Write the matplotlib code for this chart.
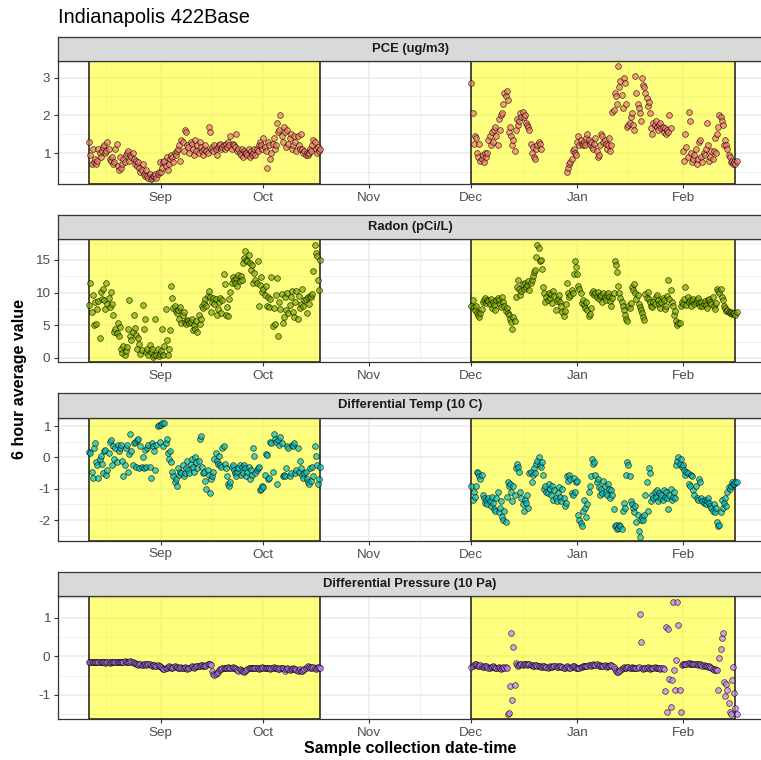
import numpy as np
import pandas as pd
import matplotlib
matplotlib.use('Agg')
import matplotlib.pyplot as plt
import matplotlib.dates as mdates
from matplotlib.colors import to_rgba

plt.rcParams['font.family'] = ['Liberation Sans', 'DejaVu Sans']
plt.rcParams['axes.unicode_minus'] = False

nan = np.nan

# two sampling campaigns, one value every 8 hours
fall_start = '2019-08-11 02:00'
winter_start = '2019-12-01 00:00'
periods = [('2019-08-11 02:00', '2019-10-17 19:00'),
           ('2019-12-01 00:00', '2020-02-16 07:00')]
x_range = ('2019-08-01 20:00', '2020-02-24 03:00')

panel_titles = ['PCE (ug/m3)', 'Radon (pCi/L)', 'Differential Temp (10 C)',
                'Differential Pressure (10 Pa)']

pce_fall = [
    1.30, 0.95, 0.70, 1.10, 0.75, 0.85, 0.70, 0.80, 1.10, 1.00, 0.90, 1.05,
    1.15, 1.20, 1.00, 1.05, 1.30, 1.10, 0.85, 0.80, 0.90, 0.70, 0.75, 1.10,
    1.25, 0.65, 0.55, 0.90, 0.60, 0.70, 0.85, 0.75, 0.95, 1.00, 1.05, 0.80,
    0.95, 0.90, 1.00, 0.85, 0.70, 0.80, 0.65, 0.75, 0.60, 0.50, 0.55, 0.70,
    0.45, 0.40, 0.55, 0.40, 0.35, 0.45, 0.30, 0.35, 0.40, 0.40, 0.45, 0.35,
    0.45, 0.50, 0.75, 0.50, 0.60, 0.75, 0.80, 0.65, 0.90, 0.55, 0.70, 0.85,
    0.95, 0.90, 0.75, 1.00, 0.95, 1.05, 1.10, 1.20, 0.80, 1.35, 1.30, 1.05,
    1.60, 1.55, 1.20, 1.15, 1.00, 1.30, 1.25, 1.10, 0.95, 1.35, 1.05, 1.20,
    1.00, 1.30, 1.15, 1.05, 0.95, 1.10, 1.20, 1.05, 1.00, 1.70, 1.55, 1.10,
    1.15, 1.05, 1.20, 1.10, 0.95, 1.15, 1.20, 1.25, 1.10, 1.15, 1.20, 1.10,
    1.25, 1.15, 1.30, 1.20, 1.45, 1.10, 1.25, 1.20, 1.15, 1.50, 1.05, 1.10,
    1.00, 0.95, 1.10, 0.90, 1.05, 1.00, 1.00, 0.95, 1.10, 0.90, 1.05, 0.95,
    1.00, 1.10, 0.95, 1.10, 1.05, 1.20, 1.30, 1.20, 1.10, 1.40, 1.15, 1.05,
    0.60, 1.30, 1.20, 0.85, 1.00, 1.25, 1.40, 1.10, 1.20, 1.80, 1.55, 1.60,
    2.00, 1.45, 1.30, 1.70, 1.55, 1.15, 1.60, 1.25, 1.40, 1.50, 1.10, 1.20,
    1.45, 1.30, 1.05, 1.45, 1.20, 1.10, 1.50, 1.10, 1.00, 1.05, 0.95, 1.00,
    0.95, 1.00, 1.10, 1.05, 1.20, 1.35, 1.30, 1.10, 1.00, 1.15, 1.05, 1.10,
]
pce_winter = [
    2.85, 2.05, 1.25, 1.45, 1.40, 1.00, 0.90, 1.25, 0.80, 0.85, 0.95, 0.75,
    1.00, 0.90, 1.00, 1.35, 1.45, 1.20, 1.55, 1.30, 1.60, 1.70, 1.45, 1.20,
    1.90, 1.60, 2.00, 2.05, 2.30, 2.60, 2.50, 2.65, 2.40, 1.55, 1.70, 1.45,
    1.20, 1.35, 1.05, 1.60, 1.90, 1.75, 1.85, 2.05, 1.95, 2.10, 1.95, 2.00,
    1.80, 1.75, 1.70, 1.60, 1.25, 1.00, 1.15, 0.90, 0.85, 1.10, 1.20, 1.30,
    1.25, 1.10, nan, nan, nan, nan, nan, nan, nan, nan, nan, nan,
    nan, nan, nan, nan, nan, nan, nan, nan, nan, nan, nan, nan,
    0.50, 0.60, 0.70, 0.75, 0.85, 1.05, 1.10, 1.00, 0.95, 1.30, 1.45, 1.20,
    1.35, 1.25, 1.20, 1.30, 1.20, 1.40, 1.50, 1.35, 1.25, 1.30, 1.15, 1.10,
    1.25, 1.40, 1.05, 0.90, 0.95, 1.20, 1.50, 1.45, 1.30, 1.35, 1.25, 1.10,
    1.20, 1.40, 1.05, 1.20, 2.10, 2.15, 2.60, 2.50, 2.30, 3.30, 2.75, 2.90,
    2.55, 2.20, 3.00, 2.85, 2.30, 1.70, 1.75, 1.80, 1.95, 2.05, 1.75, 1.60,
    3.05, 2.60, 2.30, 2.20, 2.05, 1.85, 3.00, 2.80, 2.75, 2.60, 2.45, 2.25,
    2.35, 2.05, 1.65, 1.50, 1.80, 1.75, 1.85, 1.70, 1.60, 1.75, 1.80, 1.65,
    1.70, 1.55, 1.65, 1.50, 1.60, 1.55, 2.00, 1.65, nan, nan, nan, nan,
    nan, nan, nan, nan, nan, nan, 1.05, 0.80, 1.50, 1.15, 0.90, 2.10,
    1.85, 1.00, 0.75, 0.85, 0.95, 1.10, 0.70, 0.85, 1.30, 1.35, 0.90, 0.75,
    1.00, 0.95, 1.10, 1.80, 1.20, 0.80, 0.90, 1.05, 0.85, 1.05, 1.40, 1.00,
    1.50, 1.70, 2.00, 1.95, 1.85, 1.75, 1.20, 1.35, 1.20, 1.10, 0.95, 0.90,
    0.75, 0.80, 0.70, 0.75, 0.70, 0.80,
]

radon_fall = [
    8.1, 11.4, 7.0, 9.6, 5.1, 8.5, 5.2, 7.5, 8.7, 3.0, 10.1, 9.0,
    10.5, 8.8, 7.5, 11.5, 8.3, 9.2, 7.8, 10.1, 8.2, 6.5, 4.0, 4.5,
    3.8, 5.3, 3.3, 4.8, 1.4, 0.8, 1.8, 0.5, 1.1, 1.6, 4.5, 8.8,
    3.3, 2.7, 4.0, 6.5, 4.6, 3.5, 1.4, 3.0, 2.1, 0.6, 1.2, 8.1,
    4.4, 5.9, 0.9, 1.3, 0.5, 2.0, 0.9, 1.4, 0.2, 0.5, 5.9, 0.4,
    1.3, 0.3, 0.6, 1.0, 4.5, 0.5, 1.8, 7.5, 2.8, 0.5, 1.4, 4.2,
    11.0, 9.2, 7.6, 8.0, 7.2, 6.8, 7.4, 6.0, 7.8, 5.4, 6.5, 7.0,
    5.5, 5.2, 5.8, 5.6, 5.3, 5.5, 5.9, 4.3, 5.0, 4.5, 5.6, 4.0,
    6.5, 5.2, 6.0, 8.0, 7.6, 8.4, 9.0, 8.0, 9.5, 10.2, 9.3, 7.0,
    8.5, 9.2, 8.2, 9.0, 6.6, 7.5, 8.6, 9.2, 6.9, 8.8, 12.9, 11.3,
    6.6, 7.8, 6.4, 9.0, 10.1, 11.4, 12.4, 12.0, 11.5, 12.2, 11.0, 12.7,
    11.8, 12.5, 12.0, 14.5, 15.3, 16.3, 15.0, 14.9, 15.8, 14.5, 13.5, 14.2,
    11.4, 13.0, 12.0, 11.5, 14.8, 8.0, 11.2, 12.4, 10.1, 10.5, 9.6, 11.0,
    8.0, 9.4, 7.8, 9.0, 12.4, 4.9, 7.6, 5.2, 9.6, 12.2, 3.3, 8.6,
    7.5, 9.8, 5.4, 6.2, 9.4, 7.3, 10.0, 6.8, 8.1, 9.4, 10.3, 7.1,
    6.2, 8.5, 10.2, 6.0, 9.5, 7.7, 8.3, 10.6, 7.9, 8.8, 9.0, 6.8,
    9.3, 8.3, 9.5, 9.4, 9.8, 13.3, 17.3, 16.1, 15.6, 12.0, 10.4, 15.0,
]
radon_winter = [
    8.0, 8.8, 7.8, 7.4, 8.0, 6.9, 6.5, 6.2, 6.9, 7.5, 8.6, 8.9,
    9.1, 8.4, 8.8, 8.7, 8.2, 9.0, 7.6, 8.5, 8.1, 7.4, 8.8, 9.2,
    8.9, 8.3, 7.8, 9.3, 8.6, 8.0, 7.2, 7.6, 6.9, 6.5, 6.0, 5.5,
    4.5, 6.3, 5.6, 9.4, 10.8, 11.9, 10.5, 9.6, 10.2, 11.3, 10.6, 11.5,
    10.8, 11.2, 11.7, 10.4, 11.4, 12.0, 12.6, 13.2, 13.5, 15.5, 17.3, 16.8,
    14.8, 15.0, 13.6, 10.9, 9.9, 8.6, 9.4, 8.8, 10.0, 9.2, 9.8, 8.4,
    10.2, 9.5, 7.4, 8.7, 9.0, 9.6, 8.6, 7.9, 7.0, 6.4, 7.2, 8.2,
    11.4, 10.0, 9.3, 9.7, 10.4, 10.0, 12.8, 14.9, 13.9, 12.8, 11.0, 10.6,
    9.9, 8.4, 8.8, 8.1, 7.7, 8.6, 7.4, 6.4, 6.7, 7.6, 9.9, 10.2,
    9.6, 10.0, 9.4, 10.1, 9.0, 9.5, 9.7, 8.6, 9.9, 9.3, 8.8, 9.6,
    10.0, 9.3, 8.7, 8.0, 9.2, 10.0, 14.8, 14.2, 13.2, 11.0, 10.0, 9.2,
    8.6, 8.0, 7.4, 6.5, 6.0, 5.6, 8.0, 7.6, 8.4, 10.8, 10.4, 11.3,
    9.9, 9.0, 9.6, 8.3, 7.8, 7.3, 6.9, 6.2, 5.8, 9.8, 9.2, 10.1,
    9.0, 8.6, 8.0, 7.8, 8.5, 8.2, 9.3, 9.7, 8.9, 8.2, 7.6, 8.5,
    9.1, 8.8, 7.5, 8.0, 9.5, 11.9, 9.0, 10.4, 8.6, 7.9, 6.6, 7.2,
    5.6, 5.1, 5.3, 5.4, 7.9, 8.6, 8.3, 9.0, 10.8, 8.1, 9.4, 8.5,
    8.9, 8.0, 8.7, 9.0, 8.2, 8.6, 8.8, 9.2, 8.4, 8.0, 8.6, 7.9,
    8.3, 8.7, 8.1, 7.6, 8.9, 9.0, 8.5, 8.2, 9.3, 8.0, 7.5, 8.4,
    10.6, 10.2, 9.9, 10.5, 9.3, 8.8, 8.0, 7.6, 7.2, 7.4, 7.0, 6.8,
    7.1, 6.7, 6.9, 6.8, 6.6, 7.0,
]

dtemp_fall = [
    0.18, 0.15, -0.45, -0.67, 0.30, 0.45, -0.15, -0.25, -0.67, -0.05, 0.05, -0.20,
    -0.50, 0.20, 0.25, -0.55, -0.40, 0.15, 0.50, 0.55, -0.25, 0.35, -0.05, 0.30,
    -0.15, 0.40, 0.20, 0.30, 0.40, -0.10, -0.60, -0.25, 0.30, 0.40, -0.45, 0.10,
    0.75, 0.20, -0.25, 0.45, 0.50, -0.30, 0.55, 0.60, -0.35, 0.35, -0.30, 0.00,
    -0.35, 0.25, -0.30, 0.30, 0.40, -0.30, -0.67, 0.45, 0.35, 0.20, -0.40, 0.40,
    1.00, 1.05, 0.50, 1.05, 1.10, 0.35, 1.10, 0.45, 0.60, 0.15, -0.05, 0.20,
    -0.15, -0.45, -0.60, -0.80, -0.70, -0.90, -0.35, -0.55, -0.45, -0.50, -0.25, -0.60,
    -0.50, -0.35, -0.10, -0.40, -0.50, -0.20, -0.05, -0.30, -0.45, 0.00, -0.15, -0.35,
    -0.10, 0.60, 0.70, -0.30, -0.50, -0.45, -0.75, -1.00, -0.40, -0.55, -1.15, -0.70,
    -0.60, -0.45, -0.05, 0.15, -0.10, -0.20, 0.05, -0.25, -0.30, 0.30, 0.35, -0.20,
    -0.35, -0.60, -0.85, -0.90, -0.80, -0.30, -0.25, -0.40, -0.50, -0.60, -0.45, -0.35,
    -0.25, -0.55, -0.30, -0.50, -0.25, -0.35, -0.60, -0.45, -0.30, -0.70, -0.40, -0.55,
    0.30, 0.05, -0.50, -0.40, -0.35, -0.30, -1.05, -1.00, -0.90, -0.95, -0.55, 0.10,
    0.08, -0.70, -0.65, 0.50, 0.45, -0.45, 0.75, 0.60, 0.50, -0.85, 0.55, 0.40,
    0.65, 0.45, -0.60, -0.55, -0.60, -0.35, 0.35, 0.30, -0.60, -0.50, 0.40, 0.35,
    0.45, -0.50, -0.40, 0.30, -0.45, -0.10, -0.35, -0.55, -0.65, -0.50, -0.45, -0.70,
    -0.80, -0.85, -0.35, -0.75, -0.30, -0.60, 0.35, 0.05, -0.25, -0.85, -0.70, -0.30,
]
dtemp_winter = [
    -0.90, -1.37, -1.10, -1.25, -0.90, -0.45, -0.50, -0.60, -0.70, -0.55, -1.20, -1.30,
    -1.45, -1.35, -1.50, -1.30, -1.40, -1.55, -1.25, -1.45, -1.65, -1.70, -1.30, -1.10,
    -1.75, -1.60, -1.40, -1.90, -2.00, -1.70, -2.05, -1.25, -0.80, -0.90, -0.85, -1.10,
    -1.40, -0.90, -1.20, -0.35, -0.20, -0.30, -0.45, -1.10, -1.30, -1.50, -1.70, -1.35,
    -1.45, -1.20, -1.60, -0.50, -0.45, -0.80, -0.55, -0.35, -0.50, -0.20, -0.10, 0.00,
    -0.25, -0.30, -0.15, -0.55, -1.00, -0.90, -1.10, -1.15, -0.85, -1.00, -1.20, -0.90,
    -1.35, -1.05, -1.30, -1.40, -1.15, -0.95, -1.25, -1.40, -1.00, -1.30, -1.55, -1.45,
    -0.60, -0.75, -0.55, -0.70, -1.15, -1.20, -0.65, -1.10, -0.80, -0.75, -1.85, -2.00,
    -2.10, -2.20, -1.70, -1.35, -1.60, -1.90, -1.50, -1.10, -0.90, -0.60, -0.05, -0.20,
    -0.15, -0.55, -0.80, -0.70, -0.95, -1.20, -1.00, -1.15, -0.75, -0.90, -1.15, -1.20,
    -0.85, -1.00, -1.30, -1.05, -1.20, -1.65, -2.20, -2.15, -2.30, -2.25, -2.15, -2.20,
    -2.30, -1.70, -1.45, -1.60, -0.55, -0.15, -0.25, -0.60, -1.40, -1.50, -1.60, -1.75,
    -1.55, -2.05, -1.85, -2.35, -2.55, -2.00, -1.90, -2.00, -1.85, -1.20, -0.80, -1.70,
    -0.35, -0.50, -1.40, -1.20, -1.30, -1.10, -1.25, -1.05, -1.40, -1.15, -1.30, -1.20,
    -1.35, -1.05, -1.25, -1.10, -1.30, -1.65, -1.20, -1.00, -1.35, -1.25, -1.10, -1.30,
    -0.25, -0.10, 0.00, -0.20, -0.05, -0.30, -0.25, -0.40, -0.55, -0.45, -0.50, -0.85,
    -0.90, -0.55, -0.60, -1.05, -1.20, -0.90, -1.30, -1.35, -0.70, -0.80, -1.30, -1.40,
    -1.45, -1.35, -1.50, -1.40, -1.30, -1.45, -1.55, -1.60, -1.70, -1.50, -1.75, -1.60,
    -2.05, -2.20, -2.15, -1.75, -1.35, -1.60, -1.45, -1.30, -1.55, -1.10, -0.95, -1.00,
    -0.90, -0.80, -0.85, -0.85, -0.80, -0.80,
]

dpress_fall = [
    -0.15, -0.16, -0.15, -0.15, -0.16, -0.15, -0.16, -0.15, -0.15, -0.16, -0.15, -0.16,
    -0.15, -0.16, -0.17, -0.16, -0.15, -0.16, -0.17, -0.16, -0.15, -0.16, -0.15, -0.15,
    -0.14, -0.15, -0.16, -0.15, -0.16, -0.15, -0.14, -0.13, -0.15, -0.16, -0.15, -0.14,
    -0.13, -0.15, -0.16, -0.17, -0.18, -0.20, -0.21, -0.22, -0.20, -0.21, -0.23, -0.22,
    -0.20, -0.21, -0.22, -0.20, -0.19, -0.21, -0.22, -0.24, -0.23, -0.22, -0.25, -0.24,
    -0.23, -0.25, -0.26, -0.28, -0.30, -0.32, -0.33, -0.31, -0.29, -0.27, -0.26, -0.28,
    -0.30, -0.29, -0.27, -0.25, -0.27, -0.28, -0.30, -0.29, -0.28, -0.30, -0.31, -0.29,
    -0.28, -0.30, -0.32, -0.30, -0.29, -0.27, -0.25, -0.27, -0.29, -0.28, -0.26, -0.24,
    -0.26, -0.25, -0.23, -0.22, -0.24, -0.26, -0.25, -0.23, -0.21, -0.20, -0.19, -0.22,
    -0.38, -0.45, -0.48, -0.47, -0.44, -0.40, -0.36, -0.34, -0.32, -0.31, -0.30, -0.29,
    -0.30, -0.29, -0.28, -0.29, -0.30, -0.29, -0.28, -0.30, -0.31, -0.33, -0.35, -0.37,
    -0.33, -0.35, -0.37, -0.39, -0.40, -0.38, -0.35, -0.33, -0.31, -0.30, -0.29, -0.30,
    -0.30, -0.31, -0.30, -0.29, -0.30, -0.32, -0.31, -0.30, -0.28, -0.29, -0.30, -0.31,
    -0.30, -0.29, -0.30, -0.32, -0.31, -0.29, -0.28, -0.30, -0.31, -0.30, -0.33, -0.32,
    -0.30, -0.31, -0.29, -0.32, -0.38, -0.34, -0.31, -0.33, -0.35, -0.34, -0.32, -0.30,
    -0.32, -0.34, -0.36, -0.38, -0.35, -0.33, -0.37, -0.39, -0.36, -0.34, -0.30, -0.28,
    -0.25, -0.27, -0.30, -0.28, -0.29, -0.27, -0.30, -0.32, -0.29, -0.28, -0.27, -0.30,
]
dpress_winter = [
    -0.27, -0.25, -0.22, -0.21, -0.20, -0.22, -0.24, -0.25, -0.23, -0.26, -0.28, -0.27,
    -0.25, -0.26, -0.28, -0.30, -0.29, -0.27, -0.28, -0.26, -0.27, -0.30, -0.31, -0.29,
    -0.28, -0.30, -0.32, -0.29, -0.27, -0.30, -0.28, -0.30, -1.48, -1.47, -0.76, 0.60,
    -1.13, 0.25, -0.74, -0.18, -0.22, -0.25, -0.23, -0.21, -0.20, -0.22, -0.21, -0.20,
    -0.21, -0.22, -0.20, -0.21, -0.23, -0.22, -0.24, -0.25, -0.23, -0.22, -0.24, -0.26,
    -0.25, -0.27, -0.28, -0.26, -0.25, -0.27, -0.28, -0.29, -0.27, -0.26, -0.28, -0.27,
    -0.25, -0.26, -0.24, -0.27, -0.28, -0.26, -0.25, -0.27, -0.28, -0.30, -0.29, -0.27,
    -0.26, -0.28, -0.30, -0.29, -0.27, -0.25, -0.26, -0.28, -0.30, -0.29, -0.31, -0.30,
    -0.28, -0.27, -0.26, -0.25, -0.24, -0.26, -0.25, -0.23, -0.22, -0.24, -0.23, -0.21,
    -0.22, -0.23, -0.21, -0.22, -0.24, -0.23, -0.25, -0.26, -0.24, -0.23, -0.25, -0.27,
    -0.26, -0.24, -0.22, -0.23, -0.25, -0.28, -0.33, -0.38, -0.41, -0.40, -0.37, -0.35,
    -0.33, -0.30, -0.28, -0.29, -0.30, -0.28, -0.27, -0.29, -0.30, -0.28, -0.31, -0.30,
    -0.29, -0.31, -0.30, -0.28, 1.10, 0.38, -0.30, -0.32, -0.29, -0.31, -0.30, -0.28,
    -0.30, -0.32, -0.29, -0.31, -0.30, -0.28, -0.30, -0.31, -0.29, -0.30, -0.32, -0.31,
    -0.30, -0.32, -0.91, 0.77, -1.45, 0.70, -0.60, -1.30, -0.62, 1.41, -0.36, -0.87,
    -0.10, 1.41, 0.81, -0.87, -1.43, -0.22, -0.20, -0.19, -0.21, -0.20, -0.18, -0.19,
    -0.18, -0.20, -0.19, -0.21, -0.20, -0.19, -0.20, -0.22, -0.21, -0.20, -0.22, -0.24,
    -0.23, -0.25, -0.24, -0.26, -0.27, -0.25, -0.28, -0.30, -0.32, -0.35, -0.33, -0.36,
    -0.35, -0.87, -0.05, 0.20, 0.47, 0.61, -0.66, -1.03, -0.72, -0.87, -1.20, -1.45,
    -1.50, -0.62, -0.27, -0.96, -1.35, -1.50,
]

series = [(pce_fall, pce_winter), (radon_fall, radon_winter),
          (dtemp_fall, dtemp_winter), (dpress_fall, dpress_winter)]
point_colors = ['#F8766D', '#7CAE00', '#00BFC4', '#C77CFF']
y_ticks = [[1, 2, 3], [0, 5, 10, 15], [-2, -1, 0, 1], [-1, 0, 1]]
y_limits = [(0.17, 3.44), (-0.67, 18.2), (-2.67, 1.27), (-1.63, 1.56)]

# layout, in pixels of the 761 x 760 image
W, H = 761, 760
left, right = 57.7, 762.0
panel_tops = [61.0, 239.0, 417.7, 596.0]
panel_h = 123.3
strip_h = 24.5

fig = plt.figure(figsize=(W / 100, H / 100), dpi=100)

for i in range(4):
    top = panel_tops[i]
    ax = fig.add_axes([left / W, 1 - (top + panel_h) / H, (right - left) / W, panel_h / H])

    ax.set_axisbelow(True)
    ax.grid(True, which='major', color='#EBEBEB', linewidth=1.1)
    ax.grid(True, which='minor', color='#EBEBEB', linewidth=0.55)

    for a, b in periods:
        ax.axvspan(mdates.date2num(pd.Timestamp(a)), mdates.date2num(pd.Timestamp(b)),
                   facecolor=(1, 1, 0, 0.5), edgecolor='#1a1a1a', linewidth=1.1, zorder=1)

    fall, winter = series[i]
    for start, vals in ((fall_start, fall), (winter_start, winter)):
        t = pd.date_range(start, periods=len(vals), freq='8h')
        ax.scatter(t, vals, s=17, facecolor=to_rgba(point_colors[i], 0.7),
                   edgecolor=(0, 0, 0, 0.7), linewidth=0.55, zorder=3)

    ax.set_xlim(mdates.date2num(pd.Timestamp(x_range[0])), mdates.date2num(pd.Timestamp(x_range[1])))
    ax.xaxis.set_major_locator(mdates.MonthLocator())
    ax.xaxis.set_major_formatter(mdates.DateFormatter('%b'))
    ax.xaxis.set_minor_locator(mdates.MonthLocator(bymonthday=16))

    yt = y_ticks[i]
    step = yt[1] - yt[0]
    ax.set_yticks(yt)
    ax.set_yticks([yt[0] - step / 2] + [v + step / 2 for v in yt], minor=True)
    ax.set_ylim(*y_limits[i])

    ax.tick_params(which='major', length=2.9, width=0.8, color='#333333',
                   labelcolor='#4D4D4D', labelsize=9.7, pad=2.5)
    ax.tick_params(which='minor', length=0)
    for s in ax.spines.values():
        s.set_color('#333333')
        s.set_linewidth(0.9)

    sax = fig.add_axes([left / W, 1 - top / H, (right - left) / W, strip_h / H])
    sax.set_facecolor('#D9D9D9')
    sax.set_xticks([])
    sax.set_yticks([])
    for s in sax.spines.values():
        s.set_color('#333333')
        s.set_linewidth(0.9)
    sax.text((410 - left) / (right - left), 0.5, panel_titles[i], transform=sax.transAxes,
             ha='center', va='center', fontsize=9.4, fontweight='bold', color='#1A1A1A')

fig.text(58 / W, 1 - 23.3 / H, 'Indianapolis 422Base', fontsize=14.4,
         ha='left', va='baseline', color='black')
fig.text(20 / W, 1 - 379 / H, '6 hour average value', rotation=90, fontsize=11.5,
         fontweight='bold', ha='center', va='center')
fig.text(410 / W, 1 - 749 / H, 'Sample collection date-time', fontsize=11.5,
         fontweight='bold', ha='center', va='center')

fig.savefig('out.png', dpi=100)
